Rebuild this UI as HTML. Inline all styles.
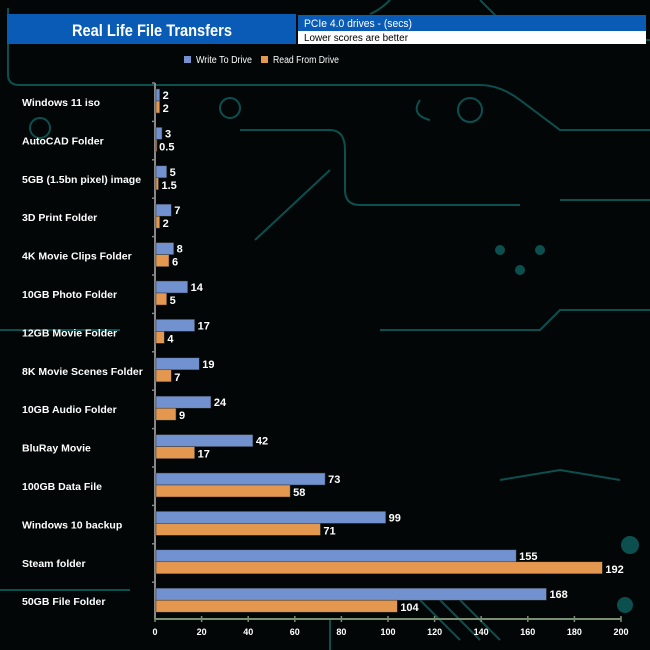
<!DOCTYPE html>
<html><head><meta charset="utf-8"><style>
body{margin:0;background:#000;}
svg{display:block;font-family:"Liberation Sans",Arial,sans-serif;}
</style></head><body>
<svg width="650" height="650" viewBox="0 0 650 650">
<rect width="650" height="650" fill="#020606"/>
<g stroke="#0c4f4f" stroke-width="2" fill="none">
<path d="M8 8 V75 Q8 85 20 85 H480 Q500 85 520 100 L560 130 H650"/>
<path d="M390 0 Q380 10 370 14"/><path d="M480 0 L520 40 H650"/>
<path d="M240 130 H330 Q345 130 345 150 V190 Q345 205 360 205 H520"/>
<path d="M430 120 Q410 115 420 100"/><path d="M560 200 H650"/><path d="M0 330 H120"/>
<path d="M380 330 H540 L560 310 H650"/><path d="M500 480 L560 470 L620 480"/>
<path d="M0 590 H130"/><path d="M420 600 L460 640"/><path d="M440 600 L480 640"/><path d="M460 600 L500 640"/>
<path d="M330 620 V650"/><path d="M255 240 L330 170"/>
<circle cx="230" cy="108" r="10"/><circle cx="470" cy="110" r="12"/><circle cx="630" cy="545" r="8" fill="#0c4f4f"/><circle cx="625" cy="605" r="7" fill="#0c4f4f"/>
<circle cx="40" cy="128" r="10"/><circle cx="500" cy="250" r="4" fill="#0c4f4f"/><circle cx="520" cy="270" r="4" fill="#0c4f4f"/><circle cx="540" cy="250" r="4" fill="#0c4f4f"/>
</g>
<rect x="7" y="14" width="289" height="30" fill="#0a5bb5"/>
<text x="72" y="36" font-size="17" font-weight="bold" fill="#fff" textLength="160" lengthAdjust="spacingAndGlyphs">Real Life File Transfers</text>
<rect x="298" y="15" width="348" height="16" fill="#0a5bb5"/>
<text x="304" y="27" font-size="11" fill="#fff" textLength="108" lengthAdjust="spacingAndGlyphs">PCIe 4.0 drives - (secs)</text>
<rect x="298" y="31" width="348" height="13" fill="#fff"/>
<text x="304" y="41" font-size="10" fill="#000" textLength="104" lengthAdjust="spacingAndGlyphs">Lower scores are better</text>
<rect x="184" y="56" width="7" height="7" fill="#7292cf"/>
<text x="196" y="63" font-size="10" fill="#fff" textLength="56" lengthAdjust="spacingAndGlyphs">Write To Drive</text>
<rect x="261" y="56" width="7" height="7" fill="#e4984f"/>
<text x="273" y="63" font-size="10" fill="#fff" textLength="66" lengthAdjust="spacingAndGlyphs">Read From Drive</text>
<g id="plot"></g>
</svg>
<script>
const categories=["Windows 11 iso","AutoCAD Folder","5GB (1.5bn pixel) image","3D Print Folder","4K Movie Clips Folder","10GB Photo Folder","12GB Movie Folder","8K Movie Scenes Folder","10GB Audio Folder","BluRay Movie","100GB Data File","Windows 10 backup","Steam folder","50GB File Folder"];
const writeVals=[2,3,5,7,8,14,17,19,24,42,73,99,155,168];
const readVals=[2,0.5,1.5,2,6,5,4,7,9,17,58,71,192,104];
const ticks=[0,20,40,60,80,100,120,140,160,180,200];
const NS="http://www.w3.org/2000/svg";
const plotG=document.getElementById('plot');
const X0=155,X1=621,TOPY=83,ROWH=38.4,AXISY=619;
const xs=v=>X0+(v/200)*(X1-X0);
const rowC=i=>TOPY+19+i*ROWH;
function el(t,a,txt){const e=document.createElementNS(NS,t);for(const k in a)e.setAttribute(k,a[k]);if(txt!==undefined)e.textContent=txt;plotG.appendChild(e);return e;}
const ya=el('line',{x1:X0,y1:TOPY,x2:X0,y2:AXISY,stroke:'#888','stroke-width':2});


categories.forEach((c,i)=>{
 const cy=rowC(i);
 const lab=el('text',{x:22,y:cy+4,'font-size':10.5,'font-weight':'bold',fill:'#fff'},c);
 
 
 const tk=el('line',{x1:X0-3,y1:cy-19,x2:X0,y2:cy-19,stroke:'#888','stroke-width':1.5});
 
 
 const bw=el('rect',{x:X0+1,y:cy-13,width:Math.max(xs(writeVals[i])-X0-1,1),height:12,fill:'#7292cf',stroke:'#333','stroke-width':0.5});
 
 
 const br=el('rect',{x:X0+1,y:cy-1,width:Math.max(xs(readVals[i])-X0-1,1),height:12,fill:'#e4984f',stroke:'#333','stroke-width':0.5});
 
 
 const vw=el('text',{x:xs(writeVals[i])+3,y:cy-3,'font-size':11,'font-weight':'bold',fill:'#fff'},String(writeVals[i]));
 
 
 const vr=el('text',{x:xs(readVals[i])+3,y:cy+10,'font-size':11,'font-weight':'bold',fill:'#fff'},String(readVals[i]));
 
 
});
const xa=el('line',{x1:X0,y1:AXISY,x2:X1,y2:AXISY,stroke:'#7a9070','stroke-width':2});


ticks.forEach(t=>{
 const tl=el('line',{x1:xs(t),y1:AXISY-3,x2:xs(t),y2:AXISY+3,stroke:'#7a9070','stroke-width':1.5});
 
 
 const tt=el('text',{x:xs(t),y:AXISY+16,'font-size':9,'font-weight':'bold',fill:'#fff','text-anchor':'middle'},String(t));
 
 
});
</script>
</body></html>
